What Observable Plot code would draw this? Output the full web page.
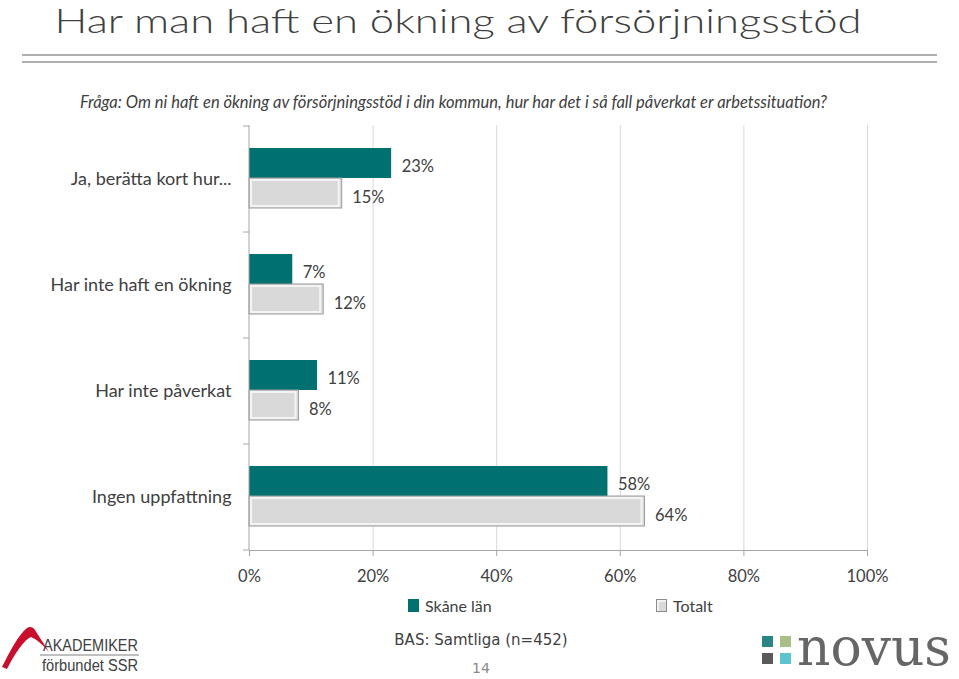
<!DOCTYPE html>
<html>
<head>
<meta charset="utf-8">
<script src="https://cdn.jsdelivr.net/npm/d3@7"></script>
<script src="https://cdn.jsdelivr.net/npm/@observablehq/plot@0.6"></script>
<style>
  html, body { margin: 0; padding: 0; background: #fff; }
  #page { position: relative; width: 959px; height: 679px; overflow: hidden; font-family: Lato, "Open Sans", sans-serif; color: #404040; }
  .abs { position: absolute; white-space: nowrap; }
  .hline { position: absolute; left: 22px; width: 915px; height: 2px; background: #b0b0b0; }
  #subtitle { left: 80px; top: 92px; font-size: 16.5px; font-style: italic; color: #404040; }
  #chart { position: absolute; left: 0; top: 110px; }
  .leg { position: absolute; top: 596px; font-size: 16px; color: #404040; display: flex; align-items: center; }
  .sw { width: 11px; height: 13px; margin-right: 6px; box-sizing: border-box; }
  #bas { left: 0; width: 962px; text-align: center; top: 631px; font-family: "DejaVu Sans", sans-serif; font-size: 15px; color: #404040; }
  #page-no { left: 0; width: 962px; text-align: center; top: 660px; font-family: "DejaVu Sans", sans-serif; font-size: 14px; color: #8a8a8a; }
</style>
</head>
<body>
<div id="page">
  <svg class="abs" style="left:0;top:0" width="959" height="50">
    <text id="title" x="458" y="33" text-anchor="middle" font-family="Lato, 'Open Sans', sans-serif" font-weight="300" font-size="33.5" fill="#404040" textLength="807" lengthAdjust="spacingAndGlyphs">Har man haft en ökning av försörjningsstöd</text>
  </svg>
  <div class="hline" style="top:54px"></div>
  <div class="hline" style="top:61px"></div>
  <div id="subtitle" class="abs">Fråga: Om ni haft en ökning av försörjningsstöd i din kommun, hur har det i så fall påverkat er arbetssituation?</div>
  <div id="chart"></div>
  <div class="leg" style="left:408px"><div class="sw" style="background:#007070"></div>Skåne län</div>
  <div class="leg" style="left:656px"><div class="sw" style="background:#d9d9d9;border:1px solid #8c8c8c;box-shadow: inset 2px 2px 0 #f2f2f2"></div>Totalt</div>
  <div id="bas" class="abs">BAS: Samtliga (n=452)</div>
  <div id="page-no" class="abs">14</div>
  <svg class="abs" style="left:0;top:624px" width="160" height="55">
    <path d="M2,43 C10,27 19,10 27,4 C30,2 33,3 35,6 L49,28 C42,20 36,15 31,13 C24,16 15,29 7,45 Z" fill="#c8102e"/>
    <text x="43" y="27" font-family="Liberation Sans Narrow, Liberation Sans, sans-serif" font-size="16" fill="#404040" textLength="95" lengthAdjust="spacingAndGlyphs">AKADEMIKER</text>
    <line x1="40" y1="31" x2="139" y2="31" stroke="#808080" stroke-width="1"/>
    <text x="42" y="47" font-family="Liberation Sans Narrow, Liberation Sans, sans-serif" font-size="16" fill="#404040" textLength="96" lengthAdjust="spacingAndGlyphs">förbundet SSR</text>
  </svg>
  <svg class="abs" style="left:750px;top:605px" width="209" height="74">
    <rect x="12" y="31" width="11" height="11" fill="#2a8585"/>
    <rect x="30" y="31" width="11" height="11" fill="#a8bf86"/>
    <rect x="12" y="48" width="11" height="11" fill="#5a5a5a"/>
    <rect x="30" y="48" width="11" height="11" fill="#5cc3cf"/>
    <text x="47" y="60" font-family="DejaVu Serif, serif" font-size="52" fill="#666" textLength="154" lengthAdjust="spacingAndGlyphs">novus</text>
  </svg>
</div>
<script>
const categories = ["Ja, berätta kort hur...", "Har inte haft en ökning", "Har inte påverkat", "Ingen uppfattning"];
const skane = [23, 7, 11, 58];
const totalt = [15, 12, 8, 64];
const xTicks = [0, 20, 40, 60, 80, 100];
const seriesNames = ["Skåne län", "Totalt"];

const rows = categories.flatMap((c, i) => [
  {category: c, series: seriesNames[0], value: skane[i]},
  {category: c, series: seriesNames[1], value: totalt[i]}
]);
const sk = rows.filter(d => d.series === seriesNames[0]);
const tt = rows.filter(d => d.series === seriesNames[1]);

const axisLines = (index, scales, values, dimensions) => {
  const {width, height, marginRight, marginTop, marginBottom} = dimensions;
  const g = d3.create("svg:g").attr("stroke", "#a6a6a6").attr("fill", "none");
  const x0 = scales.x(0);
  const bottom = height - marginBottom;
  g.append("line").attr("x1", x0).attr("x2", x0).attr("y1", marginTop).attr("y2", bottom);
  g.append("line").attr("x1", x0).attr("x2", width - marginRight).attr("y1", bottom + 0.5).attr("y2", bottom + 0.5);
  const bounds = categories.map(c => scales.y(c)).concat([bottom]);
  for (const b of bounds) {
    g.append("line").attr("x1", x0 - 6).attr("x2", x0).attr("y1", b).attr("y2", b);
  }
  return g.node();
};

const chart = Plot.plot({
  width: 959,
  height: 482,
  marginLeft: 249,
  marginRight: 92,
  marginTop: 15,
  marginBottom: 42,
  style: {fontFamily: "Lato, 'Open Sans', sans-serif", fontSize: "16px", color: "#404040", background: "transparent"},
  x: {domain: [0, 100], label: null},
  y: {domain: categories, padding: 0, label: null},
  marks: [
    Plot.gridX(xTicks.slice(1), {stroke: "#d9d9d9", strokeOpacity: 1}),
    Plot.barX(sk, {x: "value", y: "category", fill: "#007070", insetTop: 22, insetBottom: 54}),
    Plot.barX(tt, {x: "value", y: "category", fill: "#d9d9d9", stroke: "#9c9c9c", strokeWidth: 1, insetTop: 52, insetBottom: 24}),
    Plot.barX(tt, {x: "value", y: "category", fill: "none", stroke: "#f4f4f4", strokeWidth: 2, insetTop: 54, insetBottom: 26, insetLeft: 2, insetRight: 3}),
    axisLines,
    Plot.axisX({ticks: xTicks, tickFormat: d => d + "%", tickSize: 6, tickPadding: 14, stroke: "#a6a6a6", fill: "#404040", fontSize: 16.5, label: null}),
    Plot.axisY({tickSize: 0, tickPadding: 18, fill: "#404040", fontSize: 18, label: null}),
    Plot.text(sk, {x: "value", y: "category", text: d => d.value + "%", dx: 10, dy: -13, textAnchor: "start", fill: "#404040", fontSize: 16.5}),
    Plot.text(tt, {x: "value", y: "category", text: d => d.value + "%", dx: 10, dy: 18, textAnchor: "start", fill: "#404040", fontSize: 16.5})
  ]
});
document.getElementById("chart").appendChild(chart);
</script>
</body>
</html>
